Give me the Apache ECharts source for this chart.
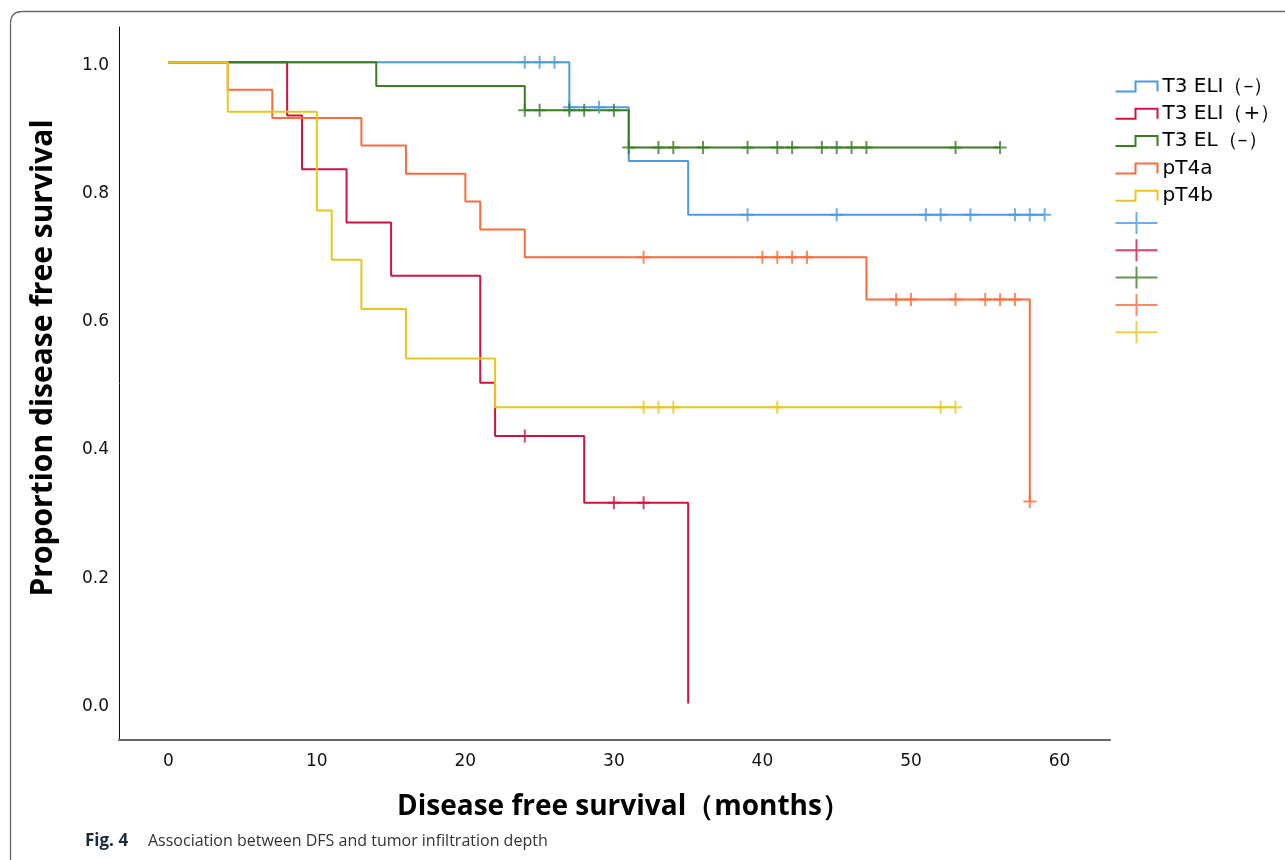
<!DOCTYPE html>
<html>
<head>
<meta charset="utf-8">
<script src="https://cdn.jsdelivr.net/npm/echarts@6/dist/echarts.min.js"></script>
<style>
    html, body { margin: 0; padding: 0; background: #fff; }
    #chart { width: 1285px; height: 860px; }
</style>
</head>
<body>
<div id="chart"></div>
<script>
// groups, in legend order
const groupNames = ["T3 ELI（–）", "T3 ELI（+）", "T3 EL（–）", "pT4a", "pT4b"];
// censor series only show a cross in the legend, no text
const censorNames = ["censor T3 ELI-", "censor T3 ELI+", "censor T3 EL-", "censor pT4a", "censor pT4b"];

// step times (months) and survival proportion after each step
const eliNegTimes = [0, 27, 31, 35, 59];
const eliNegSurv = [1.0, 0.930, 0.846, 0.762, 0.762];
const eliNegCensor = [24, 25, 26, 27, 29, 39, 45, 51, 52, 54, 57, 58, 59];

const eliPosTimes = [0, 8, 9, 12, 15, 21, 22, 28, 35];
const eliPosSurv = [1.0, 0.917, 0.833, 0.750, 0.667, 0.500, 0.417, 0.313, 0.0];
const eliPosCensor = [24, 30, 32];

const elNegTimes = [0, 14, 24, 31, 56];
const elNegSurv = [1.0, 0.963, 0.925, 0.867, 0.867];
const elNegCensor = [24, 25, 27, 28, 30, 31, 33, 34, 36, 39, 41, 42, 44, 45, 46, 47, 53, 56];

const t4aTimes = [0, 4, 7, 13, 16, 20, 21, 24, 47, 58];
const t4aSurv = [1.0, 0.957, 0.913, 0.870, 0.826, 0.783, 0.739, 0.696, 0.630, 0.315];
const t4aCensor = [32, 40, 41, 42, 43, 49, 50, 53, 55, 56, 57, 58];

const t4bTimes = [0, 4, 10, 11, 13, 16, 22, 53];
const t4bSurv = [1.0, 0.923, 0.769, 0.692, 0.615, 0.538, 0.462, 0.462];
const t4bCensor = [32, 33, 34, 41, 52, 53];

const xTicks = [0, 10, 20, 30, 40, 50, 60];
const yTicks = [0, 0.2, 0.4, 0.6, 0.8, 1.0];

const groups = [
    { times: eliNegTimes, surv: eliNegSurv, censor: eliNegCensor },
    { times: eliPosTimes, surv: eliPosSurv, censor: eliPosCensor },
    { times: elNegTimes, surv: elNegSurv, censor: elNegCensor },
    { times: t4aTimes, surv: t4aSurv, censor: t4aCensor },
    { times: t4bTimes, surv: t4bSurv, censor: t4bCensor },
];
const colors = ["#4a9ae6", "#cf1441", "#3b7d23", "#fc6b38", "#e9c61c"];

// survival value of the step curve at time t
function survAt(g, t) {
    let v = g.surv[0];
    for (let i = 0; i < g.times.length; i++) {
        if (g.times[i] <= t) v = g.surv[i];
    }
    return v;
}

const tickFont = "DejaVu Sans";
const stepIcon = "path://M0,0 M0,22 M0,16 L20,16 L20,6 L42,6 L42,16";
const crossIcon = "path://M0,11 L42,11 M21,0 L21,22";
const censorSymbol = "path://M0,6.5 L13,6.5 M6.5,0 L6.5,13";

const series = [];
groups.forEach((g, i) => {
    series.push({
        name: groupNames[i],
        type: "line",
        step: "end",
        showSymbol: false,
        silent: true,
        lineStyle: { color: colors[i], width: 2 },
        itemStyle: { color: colors[i] },
        data: g.times.map((t, k) => [t, g.surv[k]]),
        z: 2,
    });
});
groups.forEach((g, i) => {
    series.push({
        name: censorNames[i],
        type: "scatter",
        silent: true,
        symbol: censorSymbol,
        symbolSize: [13, 13],
        itemStyle: { color: "none", borderColor: colors[i], borderWidth: 2 },
        data: g.censor.map((t) => [t, survAt(g, t)]),
        z: 3,
    });
});

const legendData = [];
groupNames.forEach((n, i) => {
    legendData.push({
        name: n,
        icon: stepIcon,
        itemStyle: { color: "none", borderColor: colors[i], borderWidth: 2 },
    });
});
censorNames.forEach((n, i) => {
    legendData.push({
        name: n,
        icon: crossIcon,
        itemStyle: { color: "none", borderColor: colors[i], borderWidth: 2 },
    });
});

const frameStyle = { fill: "none", stroke: "#666", lineWidth: 1.3 };

const option = {
    animation: false,
    backgroundColor: "#fff",
    grid: {
        left: 119,
        right: 175,
        top: 27,
        bottom: 120,
    },
    legend: {
        orient: "vertical",
        left: 1113,
        top: 73,
        padding: 0,
        itemWidth: 42,
        itemHeight: 22,
        itemGap: 0.3,
        selectedMode: false,
        data: legendData,
        formatter: (name) => (censorNames.includes(name) ? "" : name),
        textStyle: {
            fontFamily: tickFont,
            fontSize: 20,
            color: "#000",
        },
    },
    xAxis: {
        type: "value",
        min: -3.32,
        max: 63.4,
        axisLine: { show: true, onZero: false, lineStyle: { color: "#666", width: 2 } },
        axisTick: { show: false },
        splitLine: { show: false },
        axisLabel: {
            customValues: xTicks,
            margin: 13,
            fontFamily: tickFont,
            fontSize: 17,
            color: "#111",
        },
    },
    yAxis: {
        type: "value",
        min: -0.057,
        max: 1.055,
        axisLine: { show: true, onZero: false, lineStyle: { color: "#111", width: 1 } },
        axisTick: { show: false },
        splitLine: { show: false },
        axisLabel: {
            customValues: yTicks,
            formatter: (v) => "{t|" + v.toFixed(1) + "}",
            margin: 10,
            rich: {
                t: {
                    padding: [6, 0, 0, 0],
                    fontFamily: tickFont,
                    fontSize: 17,
                    color: "#111",
                },
            },
        },
    },
    graphic: [
        // figure frame: only the top and left edges fall inside the picture
        {
            type: "polyline",
            silent: true,
            z: -10,
            shape: { points: [[10.5, 860], [10.5, 23.5]] },
            style: frameStyle,
        },
        {
            type: "bezierCurve",
            silent: true,
            z: -10,
            shape: { x1: 10.5, y1: 23.5, cpx1: 10.5, cpy1: 11.5, x2: 22.5, y2: 11.5 },
            style: frameStyle,
        },
        {
            type: "polyline",
            silent: true,
            z: -10,
            shape: { points: [[22.5, 11.5], [1290, 11.5]] },
            style: frameStyle,
        },
        {
            type: "text",
            silent: true,
            x: 43,
            y: 358,
            rotation: Math.PI / 2,
            style: {
                text: "Proportion disease free survival",
                font: 'bold 30px "Open Sans"',
                fill: "#000",
                textAlign: "center",
                textVerticalAlign: "middle",
            },
        },
        {
            type: "text",
            silent: true,
            x: 397,
            y: 807,
            style: {
                text: "Disease free survival（months）",
                font: 'bold 28px "Open Sans"',
                fill: "#000",
                textAlign: "left",
                textVerticalAlign: "middle",
            },
        },
        {
            type: "text",
            silent: true,
            x: 85,
            y: 841,
            style: {
                text: "Fig. 4",
                font: 'bold 17px "Open Sans"',
                fill: "#1c2b3c",
                textVerticalAlign: "middle",
            },
        },
        {
            type: "text",
            silent: true,
            x: 148,
            y: 841,
            style: {
                text: "Association between DFS and tumor infiltration depth",
                font: '16px "Open Sans"',
                fill: "#333",
                textVerticalAlign: "middle",
            },
        },
    ],
    series: series,
};

const chart = echarts.init(document.getElementById("chart"));
chart.setOption(option);
</script>
</body>
</html>
